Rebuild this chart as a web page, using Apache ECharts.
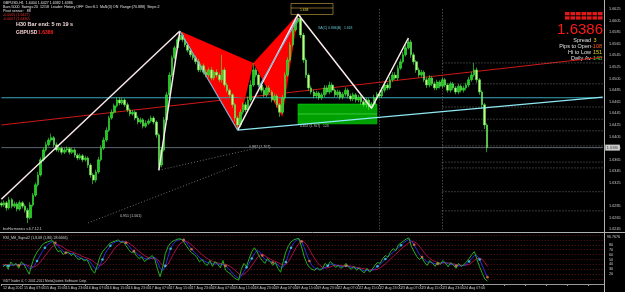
<!DOCTYPE html>
<html><head><meta charset="utf-8">
<script src="https://cdn.jsdelivr.net/npm/echarts@6/dist/echarts.min.js"></script>
<style>html,body{margin:0;padding:0;background:#000;}#c{width:625px;height:292px;}</style>
</head><body><div id="c"></div>
<script>
// ---------- DATA ----------
const tickLabels = ['12 Aug 2011','15 Aug 07:00','15 Aug 15:00','15 Aug 23:00','16 Aug 07:00','16 Aug 15:00','16 Aug 23:00','17 Aug 07:00','17 Aug 15:00','17 Aug 23:00','18 Aug 07:00','18 Aug 15:00','18 Aug 23:00','19 Aug 07:00','19 Aug 15:00','19 Aug 23:00','22 Aug 07:00','22 Aug 15:00','22 Aug 23:00','23 Aug 07:00','23 Aug 15:00','23 Aug 23:00','24 Aug 07:00','24 Aug 15:00'];
const firstOpen = 1.6290;
const closes = [
1.6287,1.6291,1.6282,1.6296,1.6285,1.6289,1.6280,1.6291,1.6285,1.6278,
1.6265,1.6287,1.6304,1.6322,1.6339,1.6365,1.6382,1.6391,1.6399,1.6403,
1.6391,1.6382,1.6385,1.6378,1.6382,1.6384,1.6378,1.6382,1.6373,1.6368,
1.6372,1.6365,1.6368,1.6356,1.6339,1.6330,1.6344,1.6365,1.6385,1.6399,
1.6416,1.6437,1.6447,1.6458,1.6468,1.6463,1.6468,1.6460,1.6451,1.6444,
1.6447,1.6437,1.6430,1.6434,1.6423,1.6428,1.6432,1.6437,1.6430,1.6408,
1.6356,1.6382,1.6434,1.6477,1.6511,1.6541,1.6558,1.6572,1.6580,1.6572,
1.6563,1.6554,1.6546,1.6541,1.6534,1.6520,1.6527,1.6516,1.6511,1.6520,
1.6506,1.6516,1.6511,1.6503,1.6520,1.6494,1.6485,1.6477,1.6460,1.6437,
1.6425,1.6447,1.6460,1.6451,1.6468,1.6494,1.6520,1.6511,1.6494,1.6485,
1.6477,1.6489,1.6482,1.6468,1.6475,1.6460,1.6447,1.6472,1.6511,1.6537,
1.6563,1.6589,1.6603,1.6609,1.6580,1.6537,1.6511,1.6489,1.6482,1.6475,
1.6480,1.6472,1.6477,1.6489,1.6482,1.6494,1.6485,1.6477,1.6482,1.6473,
1.6478,1.6485,1.6475,1.6470,1.6477,1.6468,1.6473,1.6465,1.6460,1.6468,
1.6456,1.6461,1.6472,1.6478,1.6475,1.6485,1.6494,1.6489,1.6503,1.6511,
1.6506,1.6523,1.6534,1.6546,1.6558,1.6568,1.6546,1.6534,1.6520,1.6511,
1.6516,1.6503,1.6494,1.6506,1.6496,1.6489,1.6499,1.6492,1.6503,1.6494,
1.6485,1.6496,1.6489,1.6482,1.6492,1.6485,1.6489,1.6494,1.6503,1.6511,
1.6520,1.6503,1.6482,1.6460,1.6425,1.6386];
// wick lengths beyond the body, in pips
const wickUp = [
3,4,3,5,3,4,3,4,3,3, 4,5,4,4,5,4,4,5,4,7, 3,4,4,3,4,4,3,4,3,3,
4,3,4,3,3,3,4,5,5,5, 5,4,5,4,5,5,4,3,4,3, 4,3,4,4,3,5,4,4,3,3,
3,4,5,5,5,4,4,4,7,4, 3,4,4,3,4,5,4,4,5,4, 5,4,5,4,26,4,4,3,3,3,
4,5,4,5,6,8,12,4,3,4, 5,4,4,3,4,3,3,5,5,5, 5,4,4,7,5,4,4,3,4,4,
4,3,4,5,4,6,4,3,4,3, 4,5,3,4,4,3,4,3,3,4, 3,4,5,4,4,5,4,4,5,5,
5,5,5,5,5,7,4,4,3,4, 4,3,4,5,3,4,4,3,4,3, 3,4,3,3,4,3,4,4,5,6,
12,4,3,3,3,3];
const wickDown = [
4,3,5,3,4,3,4,3,4,4, 9,3,3,3,3,3,3,3,3,4, 4,3,4,4,3,4,4,3,4,4,
3,4,3,5,5,7,4,3,3,3, 3,3,3,3,3,4,3,4,4,4, 3,4,4,3,4,3,3,3,4,5,
9,4,3,3,3,3,3,3,3,4, 4,4,4,4,4,4,4,4,4,4, 4,4,4,4,5,4,4,4,5,6,
9,4,4,4,3,3,3,4,4,4, 4,4,4,4,4,5,8,3,3,3, 3,3,3,3,5,5,5,5,4,4,
4,4,4,4,4,4,4,4,4,4, 4,4,4,4,4,4,4,5,4,5, 5,4,4,3,4,4,4,4,3,4,
3,4,3,3,3,3,5,5,5,4, 4,4,5,4,4,4,4,4,4,4, 4,4,4,4,4,4,4,4,4,3,
3,5,5,6,7,8];
// oscillator (lower pane)
const rsiMain = [
35,40,30,45,38,42,32,45,40,30, 20,40,55,65,72,80,84,86,88,88,
75,66,68,60,64,65,58,62,54,50, 53,47,50,40,28,22,38,55,66,72,
78,84,86,88,90,85,86,78,70,64, 66,57,52,55,46,50,54,58,50,30,
15,35,62,76,84,88,90,92,92,86, 78,70,64,60,55,45,50,42,38,48,
36,46,40,33,48,28,24,20,14,10, 8,30,42,36,52,66,74,66,55,48,
42,52,46,38,44,32,24,46,66,78, 86,90,92,93,76,56,42,34,30,28,
33,28,32,42,37,46,40,34,38,32, 36,42,34,30,36,28,33,26,23,32,
24,30,38,44,42,52,58,55,66,72, 68,80,84,88,92,94,76,66,56,50,
54,44,38,48,42,36,45,40,48,42, 35,44,38,32,42,36,40,45,52,60,
66,50,35,22,10,6];
const rsiFast = [
38,38,37,38,39,40,38,40,41,38, 32,32,38,47,57,66,74,80,84,87,
84,77,72,66,64,63,62,61,58,55, 52,50,50,47,40,32,30,38,50,62,
70,78,83,86,88,87,87,84,78,71, 67,63,58,56,52,51,51,54,54,45,
32,27,37,55,72,82,87,90,91,90, 85,78,71,65,60,54,50,47,44,43,
41,41,41,39,40,37,32,26,20,15, 11,16,26,34,42,52,62,68,66,58,
50,48,46,44,42,39,34,35,45,60, 74,84,89,91,87,75,60,47,38,32,
31,30,31,34,37,40,41,39,37,36, 35,37,36,34,33,32,31,29,27,28,
27,28,31,36,40,45,51,55,60,65, 69,74,79,84,88,91,88,80,70,60,
55,50,45,44,43,41,41,41,44,44, 41,40,40,37,37,37,38,41,46,52,
58,58,50,38,25,14];
const rsiSlow = [
40,40,39,39,39,39,39,39,40,39, 37,35,35,38,43,50,57,64,71,77,
80,80,78,75,71,68,66,64,62,60, 57,55,53,51,48,44,40,38,40,45,
52,60,68,75,80,84,86,86,84,80, 76,71,66,62,58,55,53,52,52,50,
44,38,35,40,50,60,70,78,84,87, 87,84,80,75,70,65,60,56,52,49,
46,44,43,42,41,40,38,35,31,26, 21,18,20,24,30,37,45,53,59,61,
58,54,51,48,46,44,41,39,40,46, 55,65,75,83,87,86,80,71,61,52,
44,38,34,33,33,35,37,38,38,38, 37,37,37,36,35,34,33,32,31,30,
29,29,29,30,33,37,41,46,51,56, 61,66,71,76,80,84,86,86,83,77,
70,63,57,52,48,46,44,43,43,43, 43,42,41,40,39,38,38,39,40,44,
48,52,53,50,44,36];
const cyanDots = [2,13,16,38,41,62,64,93,95,108,110,124,143,146,152,178,182];
const orangeDots = [6,20,24,47,50,69,72,85,99,103,114,117,131,157,160,166,173,185];
// harmonic pattern & drawn objects: [barIndex, price]
const longLeg = [[0,1.6297],[68,1.6587]];
const legXup = [[60,1.6347],[68,1.6587]];
const whiteLegs = [[90,1.6416],[113,1.6616],[141,1.6454],[155,1.6575]];
const triangleXAB = [68,1.6587,90,1.6416,96,1.6532];
const triangleBCD = [96,1.6532,107,1.6439,113,1.6616];
const blueLegXA = [[68,1.6587],[90,1.6416]];
const blueLegCD = [[98,1.6490],[113,1.6609]];
const cyanTrend = [[90,1.6416],[229,1.6473]];
const redTrend = [[0,1.6425],[229,1.6542]];
const tealLevel = 1.6472;
const bidPrice = 1.6386;
const greenZone = [113,1.6461,143,1.6427,1.6444];
const dotted1 = [[33,1.6256],[90,1.6356]];
const dotted2 = [[60,1.6347],[97,1.6385]];
const vLines = [144,168];
const fibLevels = [1.6532,1.6496,1.6456,1.6435,1.6415,1.6389,1.6361,1.6351,1.6310,1.6277];

// ---------- BUILD ----------
const N = 230;
const cats = Array.from({length:N},(_,i)=>String(i));
const ohlc = closes.map((c,i)=>{
  const o = i ? closes[i-1] : firstOpen;
  return [o, c, +(Math.min(o,c)-wickDown[i]*0.0001).toFixed(4), +(Math.max(o,c)+wickUp[i]*0.0001).toFixed(4)];
});
const ax = {xAxisIndex:0,yAxisIndex:0};
function seg(data,color,width,type,z){return Object.assign({type:'line',data:data,symbol:'none',silent:true,z:z||3,animation:false,
  lineStyle:{color:color,width:width,type:type||'solid'}},ax);}
const tri = (p)=>({type:'custom',xAxisIndex:0,yAxisIndex:0,z:2,animation:false,silent:true,data:[p],encode:{x:[0,2,4],y:[1,3,5]},
  renderItem:(params,api)=>({type:'polygon',shape:{points:[[0,1],[2,3],[4,5]].map(k=>api.coord([api.value(k[0]),api.value(k[1])]))},style:{fill:'#ff0000'}})});
const fontF = 'Liberation Sans, Arial, sans-serif';
const yMin = 1.6245, yMax = 1.6625;

const chart = echarts.init(document.getElementById('c'),null,{renderer:'canvas'});
chart.setOption({
  backgroundColor:'#000',
  animation:false,
  grid:[{left:0,right:21,top:9,bottom:62.6},{left:0,right:21,top:235,bottom:8}],
  xAxis:[
    {type:'category',gridIndex:0,data:cats,show:false,boundaryGap:true},
    {type:'category',gridIndex:1,data:cats,boundaryGap:true,
      axisLine:{show:true,lineStyle:{color:'#9a9a9a',width:1}},
      axisTick:{show:true,length:2,interval:(i)=>i%8===0,lineStyle:{color:'#9a9a9a'}},
      axisLabel:{interval:(i)=>i%8===0 && i/8<tickLabels.length,formatter:(v,i)=>tickLabels[i/8]||'',
        color:'#c8c8c8',fontSize:3.6,fontFamily:fontF,margin:2,align:'left'}}
  ],
  yAxis:[
    {type:'value',gridIndex:0,position:'right',min:yMin,max:yMax,interval:0.0005,
      axisLine:{show:false},axisTick:{show:false},splitLine:{show:false},
      axisLabel:{color:'#c8c8c8',fontSize:3.8,fontFamily:fontF,margin:5,
        formatter:(v)=>{const k=Math.round((v-yMin)/0.0005);return (k%4===0 && k!==12)?v.toFixed(4):'';}}},
    {type:'value',gridIndex:1,position:'right',min:0,max:100,interval:10,
      axisLine:{show:false},axisTick:{show:false},
      splitLine:{show:true,lineStyle:{color:'#7a1a1a',type:[1,2],width:0.8}},
      axisLabel:{color:'#c8c8c8',fontSize:3.8,fontFamily:fontF,margin:5,formatter:(v)=>(v>=20&&v<=80)?String(v):''}}
  ],
  series:[
    tri(triangleXAB), tri(triangleBCD),
    {type:'custom',xAxisIndex:0,yAxisIndex:0,z:2,silent:true,animation:false,data:[greenZone],encode:{x:[0,2],y:[1,3]},
      renderItem:(params,api)=>{const a=api.coord([api.value(0),api.value(1)]),b=api.coord([api.value(2),api.value(3)]),m=api.coord([api.value(0),api.value(4)]);
        return {type:'group',children:[
          {type:'rect',shape:{x:a[0],y:a[1],width:b[0]-a[0],height:b[1]-a[1]},style:{fill:'#00a000',stroke:'#00d000',lineWidth:0.7}},
          {type:'line',shape:{x1:a[0],y1:m[1],x2:b[0],y2:m[1]},style:{stroke:'#50e050',lineWidth:0.7}}]};}},
    seg([[0,tealLevel],[229,tealLevel]],'#3aa6b8',1.2,'solid',3),
    seg([[0,bidPrice],[229,bidPrice]],'#5c6470',1,'solid',3),
    ...vLines.map(v=>seg([[v,yMin],[v,yMax]],'#8a8a8a',0.8,[1,2],3)),
    Object.assign({type:'candlestick',data:ohlc,barWidth:2.1,z:4,silent:true,animation:false,
      itemStyle:{color:'#22c822',color0:'#d4f08a',borderColor:'#3cf03c',borderColor0:'#48f048',borderWidth:0.6}},ax),
    seg(redTrend,'#d01818',1,'solid',3),
    seg(cyanTrend,'#8fe8f4',1.2,'solid',5),
    seg(dotted1,'#8a8a8a',0.8,[1,2],3),
    seg(dotted2,'#8a8a8a',0.8,[1,2],3),
    ...fibLevels.map(f=>seg([[168,f],[229,f]],'#9a9a9a',0.7,[1,2],3)),
    seg(longLeg,'#fbe8ea',1.5,'solid',6),
    seg(legXup,'#fbe8ea',1.5,'solid',6),
    seg(whiteLegs,'#fbe8ea',1.5,'solid',6),
    seg(blueLegXA,'#7ab4d8',1.2,'solid',6),
    seg(blueLegCD,'#7ab4d8',1.2,'solid',6),
    Object.assign({type:'scatter',data:[[229,bidPrice]],symbolSize:0.1,silent:true,z:12,
      label:{show:true,position:'right',distance:2.5,formatter:'1.6386',color:'#000',backgroundColor:'#ffffff',
        fontSize:3.8,padding:[1,1.5],fontFamily:fontF}},ax),
    // lower pane
    {type:'line',xAxisIndex:1,yAxisIndex:1,data:rsiSlow,symbol:'none',lineStyle:{color:'#c01050',width:0.9},z:3},
    {type:'line',xAxisIndex:1,yAxisIndex:1,data:rsiFast,symbol:'none',lineStyle:{color:'#3030ff',width:0.9},z:4},
    {type:'line',xAxisIndex:1,yAxisIndex:1,data:rsiMain,symbol:'none',lineStyle:{color:'#22b022',width:1},z:5},
    {type:'scatter',xAxisIndex:1,yAxisIndex:1,symbolSize:2.6,itemStyle:{color:'#40e0f0'},data:cyanDots.map(i=>[i,rsiFast[i]]),z:6},
    {type:'scatter',xAxisIndex:1,yAxisIndex:1,symbolSize:2.6,itemStyle:{color:'#f08040'},data:orangeDots.map(i=>[i,rsiFast[i]]),z:6}
  ],
  graphic:[
    {type:'line',shape:{x1:604.5,y1:0,x2:604.5,y2:292},style:{stroke:'#b0b0b0',lineWidth:1},z:10,silent:true},
    {type:'line',shape:{x1:0,y1:232.5,x2:625,y2:232.5},style:{stroke:'#b0b0b0',lineWidth:1},z:10,silent:true},
    {type:'text',x:3,y:0.5,style:{text:'GBPUSD,H1  1.6404 1.6427 1.6382 1.6386',fill:'#e0e0e0',font:'3.6px '+fontF}},
    {type:'text',x:3,y:4.8,style:{text:'Bars:5000  Swings:20  12/18  Leader: History OFF  Dev:8.1  MaN(3) ON  Range:(70.888)  Steps:2',fill:'#e0e0e0',font:'3.6px '+fontF}},
    {type:'text',x:3,y:9.2,style:{text:'Pivot sensor:   88',fill:'#e0e0e0',font:'3.6px '+fontF}},
    {type:'text',x:3,y:13.2,style:{text:'-0.0005 (1.6427)',fill:'#e03030',font:'3.6px '+fontF}},
    {type:'text',x:3,y:17.2,style:{text:'-0.0007 (1.6430)',fill:'#e03030',font:'3.6px '+fontF}},
    {type:'text',x:16,y:21.5,style:{text:'H30 Bar end: 5 m 19 s',fill:'#f0d8d8',font:'bold 5.5px '+fontF}},
    {type:'text',x:16,y:30.5,style:{text:'GBPUSD',fill:'#f0c8c8',font:'bold 5px '+fontF}},
    {type:'text',x:38,y:30.5,style:{text:'1.6386',fill:'#ff2020',font:'bold 5px '+fontF}},
    {type:'text',x:603,y:22,style:{text:'1.6386',fill:'#ff1818',font:'15px '+fontF,align:'right'}},
    {type:'text',x:591,y:37.5,style:{text:'Spread',fill:'#e0e0e0',font:'5.5px '+fontF,align:'right'}},
    {type:'text',x:593.5,y:37.5,style:{text:'3',fill:'#e8d020',font:'5.5px '+fontF}},
    {type:'text',x:591,y:43.5,style:{text:'Pips to Open',fill:'#e0e0e0',font:'5.5px '+fontF,align:'right'}},
    {type:'text',x:591,y:43.5,style:{text:'-108',fill:'#ff5a20',font:'5.5px '+fontF}},
    {type:'text',x:591,y:49.5,style:{text:'Hi to Low',fill:'#e0e0e0',font:'5.5px '+fontF,align:'right'}},
    {type:'text',x:593,y:49.5,style:{text:'151',fill:'#e8d020',font:'5.5px '+fontF}},
    {type:'text',x:591,y:55.5,style:{text:'Daily Av',fill:'#e0e0e0',font:'5.5px '+fontF,align:'right'}},
    {type:'text',x:593,y:55.5,style:{text:'148',fill:'#40e040',font:'5.5px '+fontF}},
    ...[0,1,2,3,4,5,6].map(k=>({type:'rect',shape:{x:565+k*5.5,y:12,width:4.6,height:3.3},style:{fill:'#e01818'}})),
    ...[0,1,2,3,4,5,6].map(k=>({type:'rect',shape:{x:565+k*5.5,y:16.3,width:4.6,height:3.3},style:{fill:'#e01818'}})),
    {type:'rect',shape:{x:291,y:3.5,width:42,height:11},style:{fill:'none',stroke:'#b09030',lineWidth:0.7}},
    {type:'line',shape:{x1:291,y1:8,x2:333,y2:8},style:{stroke:'#b09030',lineWidth:0.7}},
    {type:'text',x:300,y:8.5,style:{text:'1.658',fill:'#e0d040',font:'3.4px '+fontF}},
    {type:'text',x:318,y:27,style:{text:'XA(C) 0.886(B)   1.618',fill:'#60c0d0',font:'3.4px '+fontF}},
    {type:'text',x:120,y:214,style:{text:'0.951 (1.561)',fill:'#c8c8c8',font:'3.6px '+fontF}},
    {type:'text',x:249,y:145,style:{text:'0.887 (1.707)',fill:'#c8c8c8',font:'3.6px '+fontF}},
    {type:'text',x:300,y:125,style:{text:'0.857 (1.707)   123',fill:'#c8c8c8',font:'3.4px '+fontF}},
    {type:'text',x:3,y:227,style:{text:'bsrHarmonics v.6.7.12.1',fill:'#d0d0d0',font:'3.6px '+fontF}},
    {type:'text',x:3,y:235.5,style:{text:'RSI_Mtf_Signal2 (1,8,68 (1,86) 28.6666)',fill:'#d0d0d0',font:'3.6px '+fontF}},
    {type:'text',x:607,y:234.5,style:{text:'96.7676',fill:'#d0d0d0',font:'3.6px '+fontF}},
    {type:'text',x:3,y:279.5,style:{text:'GDTTrader 4, © 2001-2011 MetaQuotes Software Corp.',fill:'#d0d0d0',font:'3.4px '+fontF}}
  ]
});
</script></body></html>
